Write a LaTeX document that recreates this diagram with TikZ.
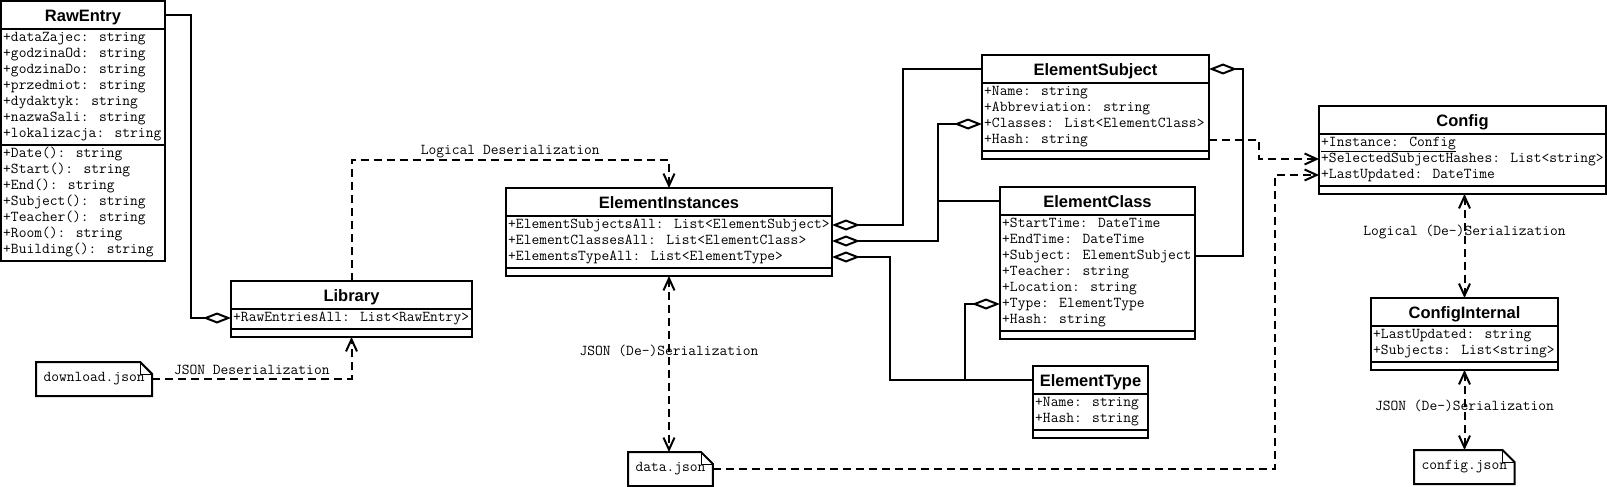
\documentclass[tikz,border=0pt]{standalone}
\usepackage{fontspec}
\newfontfamily\umlsans{Liberation Sans}
\newcommand\umlmono{\ttfamily}
\usetikzlibrary{arrows.meta}

\tikzset{
  classbox/.style={draw, line width=2pt, inner sep=0pt, outer sep=0pt},
  classtitle/.style={anchor=base, inner sep=0pt, font=\umlsans\bfseries\fontsize{16.5}{18}\selectfont},
  attr/.style={anchor=west, inner sep=0pt, text height=10pt, text depth=3pt, font=\umlmono\fontsize{15.1}{16}\selectfont},
  lbl/.style={attr, anchor=center},
  notebox/.style={inner xsep=7.5pt, inner ysep=0pt, outer sep=0pt, minimum height=34pt, font=\umlmono\fontsize{15.1}{16}\selectfont},
  aggr/.style={line width=2pt, {Diamond[length=28pt,width=11pt,fill=white]}-},
  dep/.style={line width=2pt, dash pattern=on 8pt off 5pt, -{Straight Barb[length=12pt,width=11pt]}},
  depboth/.style={dep, {Straight Barb[length=12pt,width=11pt]}-{Straight Barb[length=12pt,width=11pt]}},
}

\newcommand\umlclass[7]{%
  \foreach \att [count=\i] in {#6} {
    \node[attr] (#1-\i) at (#2+2, #3+37+16*\i-16) {\att};
    \xdef\nattr{\i}
  }
  \pgfmathsetmacro\hatt{16*\nattr+4}
  \pgfmathsetmacro\hmeth{8}
  \if\relax\detokenize{#7}\relax\else
    \foreach \mth [count=\j] in {#7} {
      \node[attr] (#1-m\j) at (#2+2, #3+28+\hatt+9+16*\j-16) {\mth};
      \xdef\nmeth{\j}
    }
    \pgfmathsetmacro\hmeth{16*\nmeth+4}
  \fi
  \node[classbox, minimum width=#4, minimum height=28+\hatt+\hmeth, anchor=north west] (#1) at (#2,#3) {};
  \node[classtitle] (#1-title) at (#2+#4/2, #3+20.5) {#5};
  \coordinate (#1-hw) at (#2, #3+14);
  \coordinate (#1-he) at (#2+#4, #3+14);
  \draw[line width=2pt] (#2, #3+28) -- ++(#4,0);
  \draw[line width=2pt] (#2, #3+28+\hatt) -- ++(#4,0);
}

\newcommand\umlnote[4]{%
  \node[notebox, anchor=north west] (#1) at (#2,#3) {#4};
  \draw[line width=2pt] (#1.south west) -- (#1.north west) -- ([xshift=-12pt]#1.north east)
    -- ([yshift=-12pt]#1.north east) -- (#1.south east) -- cycle;
  \draw[line width=0.8pt] ([xshift=-12pt]#1.north east) |- ([yshift=-12pt]#1.north east);
}

\begin{document}
\begin{tikzpicture}[x=1pt, y=-1pt]
  \useasboundingbox (0,0) rectangle (1607,487);

  \umlclass{raw}{1}{1}{164}{RawEntry}{+dataZajec: string, +godzinaOd: string, +godzinaDo: string,
    +przedmiot: string, +dydaktyk: string, +nazwaSali: string, +lokalizacja: string}{+Date(): string,
    +Start(): string, +End(): string, +Subject(): string, +Teacher(): string, +Room(): string,
    +Building(): string}
  \umlclass{lib}{231}{281}{241}{Library}{+RawEntriesAll: List<RawEntry>}{}
  \umlclass{ei}{506}{188}{326}{ElementInstances}{+ElementSubjectsAll: List<ElementSubject>,
    +ElementClassesAll: List<ElementClass>, +ElementsTypeAll: List<ElementType>}{}
  \umlclass{es}{982}{55}{227}{ElementSubject}{+Name: string, +Abbreviation: string,
    +Classes: List<ElementClass>, +Hash: string}{}
  \umlclass{ec}{1000}{187}{195}{ElementClass}{+StartTime: DateTime, +EndTime: DateTime,
    +Subject: ElementSubject, +Teacher: string, +Location: string, +Type: ElementType, +Hash: string}{}
  \umlclass{et}{1033}{366}{115}{ElementType}{+Name: string, +Hash: string}{}
  \umlclass{cfg}{1319}{106}{287}{Config}{\underline{+Instance: Config},
    +SelectedSubjectHashes: List<string>, +LastUpdated: DateTime}{}
  \umlclass{ci}{1371}{298}{187}{ConfigInternal}{+LastUpdated: string, +Subjects: List<string>}{}

  \umlnote{download}{36}{362}{download.json}
  \umlnote{data}{628}{452}{data.json}
  \umlnote{cfgjson}{1414}{450}{config.json}

  \coordinate (cls-join) at ([xshift=-62pt]ec-hw);
  \coordinate (type-join) at ([xshift=-68pt]et-hw);

  \draw[aggr] (lib.west |- lib-1) -- ++(-40,0) |- (raw-he);
  \draw[dep] (lib.north) -- ++(0,-121) -| node[lbl, pos=0.25, yshift=9pt] {Logical Deserialization} (ei.north);
  \draw[dep] (download.east) -| node[lbl, pos=0.25, yshift=8pt] {JSON Deserialization} (lib.south);
  \draw[depboth] (ei.south) -- node[lbl, pos=0.43] {JSON (De-)Serialization} (ei.south |- data.north);

  \draw[aggr] (ei.east |- ei-1) -- ++(71,0) |- (es-hw);
  \draw[aggr] (ei.east |- ei-2) -| (cls-join) -- (ec-hw);
  \draw[aggr] (es.west |- es-3) -| (cls-join);
  \draw[aggr] (ei.east |- ei-3) -- ++(58,0) |- (et-hw);
  \draw[aggr] (ec.west |- ec-6) -| (type-join);
  \draw[aggr] (es-he) -- ++(34,0) |- (ec.east |- ec-3);

  \draw[dep] (es.east |- es-4) -- ++(50,0) |- (cfg.west |- cfg-2);
  \draw[dep] (data.east) -- ++(562,0) |- (cfg.west |- cfg-3);
  \draw[depboth] (ci.north |- cfg.south) -- node[lbl, pos=0.37] {Logical (De-)Serialization} (ci.north);
  \draw[depboth] (ci.south) -- node[lbl, pos=0.46] {JSON (De-)Serialization} (ci.south |- cfgjson.north);
\end{tikzpicture}
\end{document}
